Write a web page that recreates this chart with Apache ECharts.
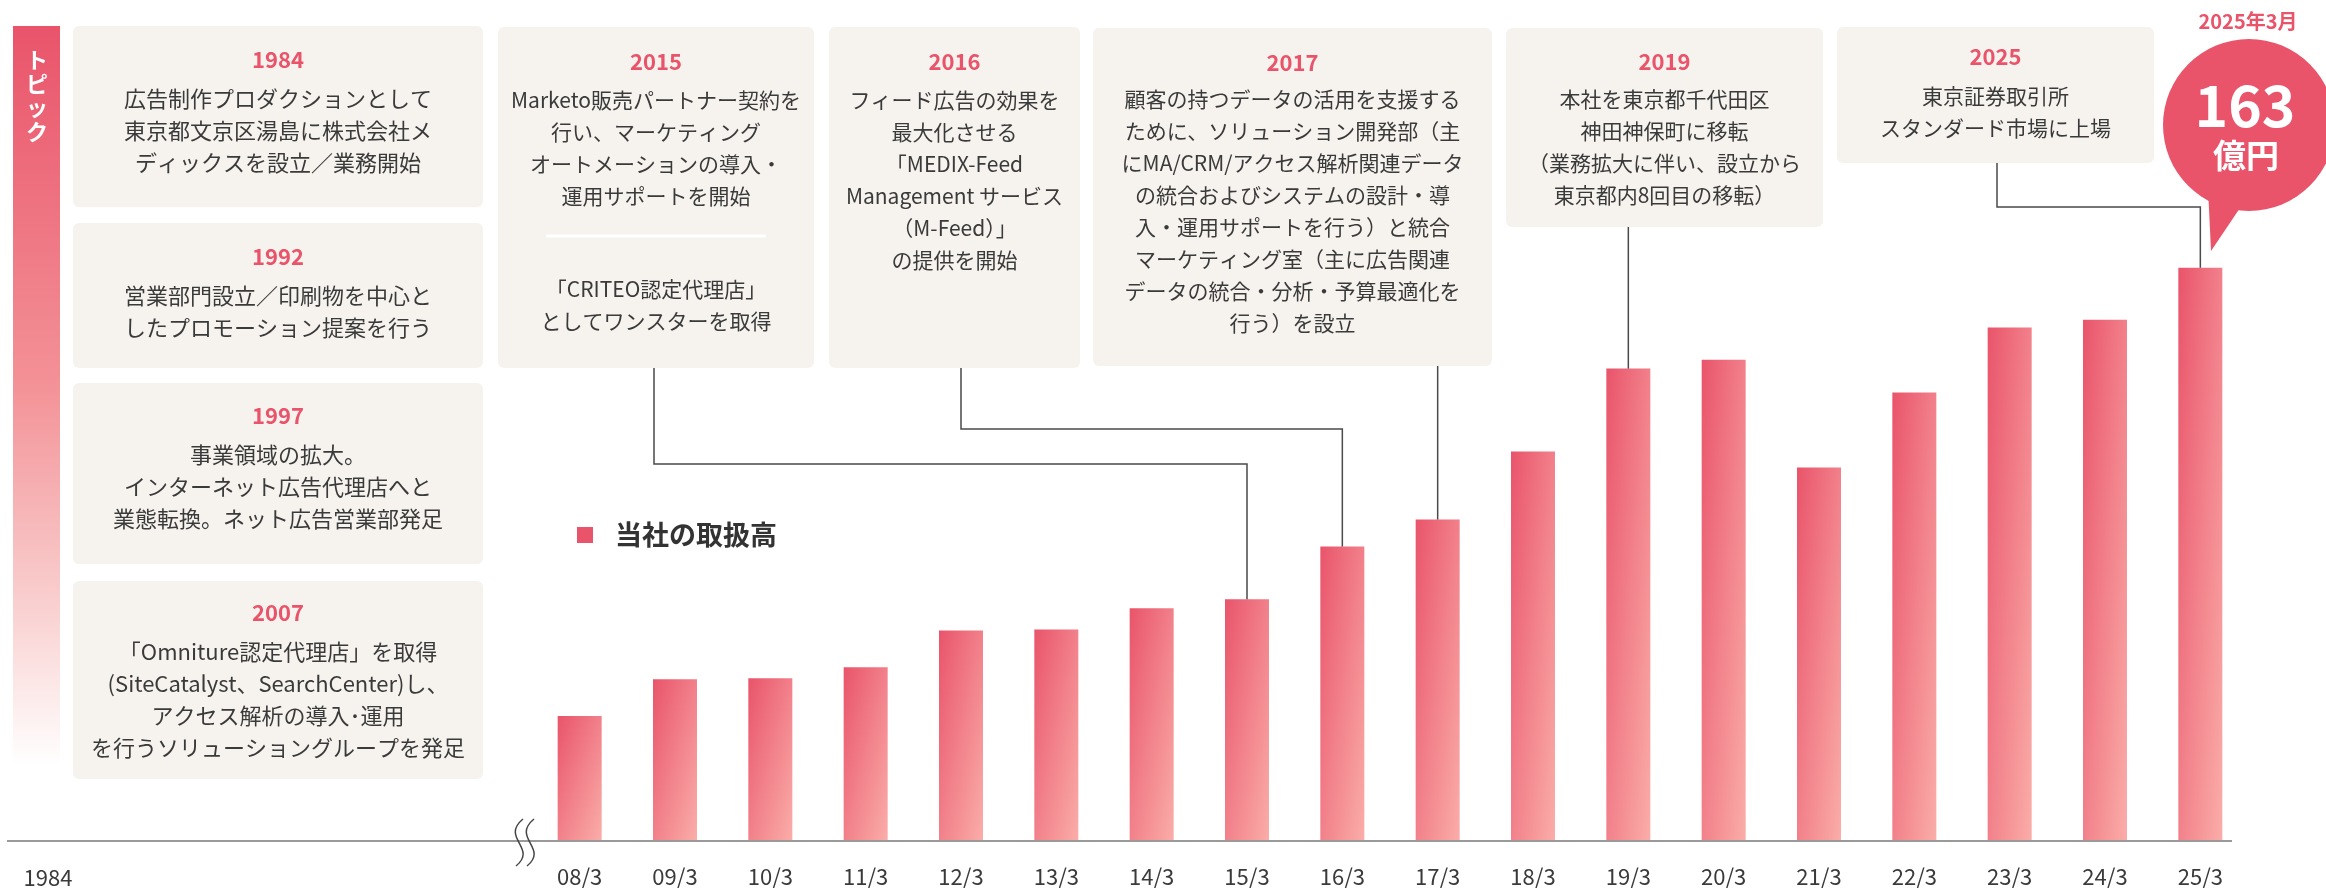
<!DOCTYPE html>
<html>
<head>
<meta charset="utf-8">
<title>当社の取扱高の推移</title>
<script src="https://cdn.jsdelivr.net/npm/echarts@6/dist/echarts.min.js"></script>
<style>
  html, body { margin: 0; padding: 0; background: #fff; }
  #main { width: 2326px; height: 888px; }
</style>
</head>
<body>
<div id="main"></div>
<script>
// 決算期
var categories = ['08/3', '09/3', '10/3', '11/3', '12/3', '13/3', '14/3', '15/3', '16/3',
  '17/3', '18/3', '19/3', '20/3', '21/3', '22/3', '23/3', '24/3', '25/3'];
// 当社の取扱高（億円）
var amounts = [35.3, 45.8, 46.1, 49.2, 59.7, 60.0, 66.0, 68.6, 83.6,
  91.3, 110.7, 134.3, 136.8, 106.1, 127.5, 146.0, 148.2, 163];
var seriesName = '当社の取扱高';
var startYear = '1984';
var latestLabel = '2025年3月';
var latestValue = '163';
var latestUnit = '億円';

// トピック
var topicYears = ['1984', '1992', '1997', '2007', '2015', '2016', '2017', '2019', '2025'];
var topicTexts = [
  ['広告制作プロダクションとして', '東京都文京区湯島に株式会社メ', 'ディックスを設立／業務開始'],
  ['営業部門設立／印刷物を中心と', 'したプロモーション提案を行う'],
  ['事業領域の拡大。', 'インターネット広告代理店へと', '業態転換。ネット広告営業部発足'],
  ['「Omniture認定代理店」を取得', '(SiteCatalyst、SearchCenter)し、', 'アクセス解析の導入･運用', 'を行うソリューショングループを発足'],
  ['Marketo販売パートナー契約を', '行い、マーケティング', 'オートメーションの導入・', '運用サポートを開始'],
  ['フィード広告の効果を', '最大化させる', '「MEDIX-Feed', 'Management サービス', '（M-Feed）」', 'の提供を開始'],
  ['顧客の持つデータの活用を支援する', 'ために、ソリューション開発部（主', 'にMA/CRM/アクセス解析関連データ',
    'の統合およびシステムの設計・導', '入・運用サポートを行う）と統合', 'マーケティング室（主に広告関連',
    'データの統合・分析・予算最適化を', '行う）を設立'],
  ['本社を東京都千代田区', '神田神保町に移転', '（業務拡大に伴い、設立から', '東京都内8回目の移転）'],
  ['東京証券取引所', 'スタンダード市場に上場']
];
var topic2015Extra = ['「CRITEO認定代理店」', 'としてワンスターを取得'];

// 枠の配置
var boxes = [
  {x: 73, y: 26, w: 410, h: 181, yearY: 60, textY: 83, size: 22},
  {x: 73, y: 223, w: 410, h: 145, yearY: 257, textY: 280, size: 22},
  {x: 73, y: 383, w: 410, h: 181, yearY: 416, textY: 439, size: 22},
  {x: 73, y: 581, w: 410, h: 198, yearY: 613, textY: 636, size: 22},
  {x: 498, y: 27, w: 316, h: 341, yearY: 62, textY: 84, size: 21},
  {x: 829, y: 27, w: 251, h: 341, yearY: 62, textY: 84, size: 21},
  {x: 1093, y: 28, w: 399, h: 338, yearY: 63, textY: 83, size: 21},
  {x: 1506, y: 28, w: 317, h: 199, yearY: 62, textY: 83, size: 21},
  {x: 1837, y: 27, w: 317, h: 136, yearY: 57, textY: 80, size: 21}
];
// 枠から棒への線
var links = [
  {box: 4, cat: '15/3', x: 654, elbowY: 464},
  {box: 5, cat: '16/3', x: 961, elbowY: 429},
  {box: 6, cat: '17/3'},
  {box: 7, cat: '19/3'},
  {box: 8, cat: '25/3', x: 1997, elbowY: 207}
];

var FONT = "'Noto Sans CJK JP', 'Noto Sans', sans-serif";
var RED = '#E9546B';
var TEXT = '#3a3a3a';
var BAR_W = 44;

function txt(x, y, text, size, color, weight, valign, lh) {
  return {
    type: 'text', x: x, y: y, z: 10,
    style: {
      text: text, fill: color, fontSize: size, fontWeight: weight || 'normal',
      fontFamily: FONT, align: 'center', verticalAlign: valign || 'middle',
      textAlign: 'center', textVerticalAlign: valign || 'middle',
      lineHeight: lh || size
    }
  };
}

var myChart = echarts.init(document.getElementById('main'));

var option = {
  animation: false,
  grid: {left: 532, right: 78, top: 138, bottom: 47},
  legend: {
    left: 577, top: 520, padding: 0,
    itemWidth: 16, itemHeight: 16, icon: 'rect',
    data: [seriesName],
    textStyle: {fontSize: 27, fontWeight: 'bold', color: '#333', fontFamily: FONT,
      padding: [0, 0, 0, 17], lineHeight: 30}
  },
  xAxis: {
    type: 'category',
    data: categories,
    axisLine: {show: false},
    axisTick: {show: false},
    axisLabel: {fontSize: 22, color: TEXT, margin: 26, fontFamily: FONT}
  },
  yAxis: {type: 'value', min: 0, max: 200, show: false, splitLine: {show: false}},
  series: [{
    name: seriesName,
    type: 'bar',
    barWidth: BAR_W,
    itemStyle: {color: RED},
    data: amounts
  }]
};
myChart.setOption(option);

// 棒ごとのグラデーション（左上→右下）
var base = myChart.convertToPixel({gridIndex: 0}, [0, 0]);
var barData = amounts.map(function (v, i) {
  var p = myChart.convertToPixel({gridIndex: 0}, [i, v]);
  var h = base[1] - p[1];
  var L2 = h * h + BAR_W * BAR_W;
  var dx = h * h / L2, dy = BAR_W * BAR_W / L2;
  return {
    value: v,
    itemStyle: {
      color: new echarts.graphic.LinearGradient(0.5 - dx, 0.5 - dy, 0.5 + dx, 0.5 + dy, [
        {offset: 0, color: '#E9546B'},
        {offset: 1, color: '#FAADA9'}
      ])
    }
  };
});

var g = [];
// トピック帯
g.push({
  type: 'rect', shape: {x: 13, y: 26, width: 47, height: 740},
  style: {fill: new echarts.graphic.LinearGradient(0, 0, 0, 1, [
    {offset: 0, color: '#E9546B'},
    {offset: 0.48, color: '#F39196'},
    {offset: 0.78, color: '#F9CFCF'},
    {offset: 1, color: '#FFFFFF'}
  ])}
});
g.push(txt(37, 48, 'ト\nピ\nッ\nク', 22, '#fff', 'bold', 'top', 24));

// トピック枠
boxes.forEach(function (b, i) {
  var cx = b.x + b.w / 2;
  g.push({type: 'rect', shape: {x: b.x, y: b.y, width: b.w, height: b.h, r: 6},
    style: {fill: '#F6F3EF'}});
  g.push(txt(cx, b.yearY, topicYears[i], 22, RED, 'bold'));
  g.push(txt(cx, b.textY, topicTexts[i].join('\n'), b.size, TEXT, 'normal', 'top', 32));
  if (topicYears[i] === '2015') {
    g.push({type: 'line', z: 10, shape: {x1: cx - 110, y1: 236, x2: cx + 110, y2: 236},
      style: {stroke: '#fff', lineWidth: 3}});
    g.push(txt(cx, 273, topic2015Extra.join('\n'), b.size, TEXT, 'normal', 'top', 32));
  }
});

// 接続線
links.forEach(function (l) {
  var idx = categories.indexOf(l.cat);
  var top = myChart.convertToPixel({gridIndex: 0}, [idx, amounts[idx]]);
  var b = boxes[l.box];
  var bottom = b.y + b.h;
  var pts;
  if (l.x != null) {
    pts = [[l.x, bottom], [l.x, l.elbowY], [top[0], l.elbowY], [top[0], top[1]]];
  } else {
    pts = [[top[0], bottom], [top[0], top[1]]];
  }
  g.push({type: 'polyline', z: 5, shape: {points: pts},
    style: {stroke: '#4a4a4a', lineWidth: 1.5, fill: 'none'}});
});

// 軸線・省略記号・1984
g.push({type: 'line', shape: {x1: 7, y1: 841, x2: 2232, y2: 841},
  style: {stroke: '#9a9a9a', lineWidth: 2}});
[0, 11].forEach(function (off) {
  g.push({type: 'bezierCurve', z: 6,
    shape: {x1: 523 + off, y1: 819, cpx1: 500 + off, cpy1: 838, cpx2: 538 + off, cpy2: 848, x2: 516 + off, y2: 866},
    style: {stroke: '#444', lineWidth: 1.5, fill: 'none'}});
});
g.push(txt(48, 878, startYear, 22, TEXT, 'normal'));

// 吹き出し
g.push({type: 'polygon', shape: {points: [[2208, 188], [2211, 251], [2242, 205]]}, style: {fill: RED}});
g.push({type: 'circle', shape: {cx: 2249, cy: 125, r: 86}, style: {fill: RED}});
g.push(txt(2248, 21, latestLabel, 20, RED, 'bold'));
g.push(txt(2245, 105, latestValue, 57, '#fff', 'bold'));
g.push(txt(2246, 155, latestUnit, 33, '#fff', 'bold'));

myChart.setOption({
  series: [{data: barData}],
  graphic: g
});
</script>
</body>
</html>
